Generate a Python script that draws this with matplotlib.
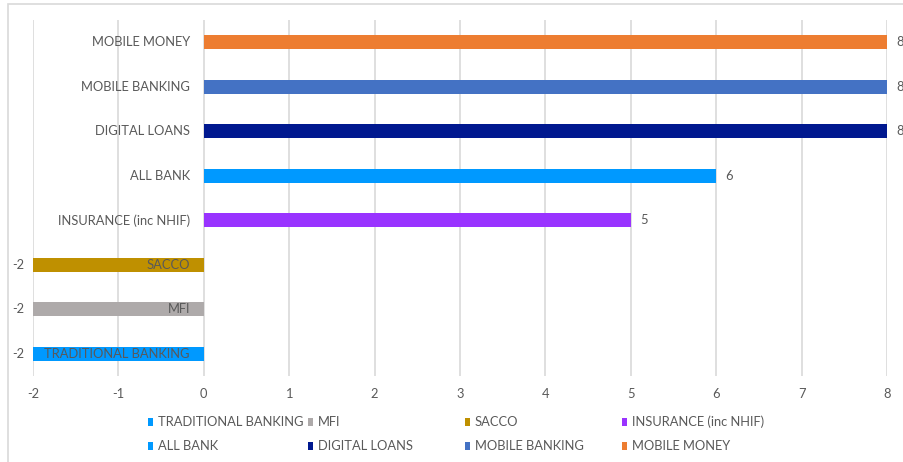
import matplotlib.pyplot as plt
from matplotlib.patches import Rectangle

categories = ["TRADITIONAL BANKING", "MFI", "SACCO", "INSURANCE (inc NHIF)",
              "ALL BANK", "DIGITAL LOANS", "MOBILE BANKING", "MOBILE MONEY"]
values = [-2, -2, -2, 5, 6, 8, 8, 8]
colors = ["#0099FF", "#AEAAAA", "#BF9000", "#9933FF",
          "#0099FF", "#00188F", "#4472C4", "#ED7D31"]
xticks = list(range(-2, 9))

plt.rcParams['font.family'] = ['Lato', 'DejaVu Sans']
plt.rcParams['axes.unicode_minus'] = False
txt = "#595959"
grid = "#D9D9D9"
fs = 9.3

fig = plt.figure(figsize=(9.04, 4.62), dpi=100)
ax = fig.add_axes([33 / 904, 86 / 462, 854 / 904, 356 / 462])

pos = list(range(len(categories)))
ax.barh(pos, values, height=0.32, color=colors, zorder=3)

for p, v, c in zip(pos, values, categories):
    if v >= 0:
        ax.annotate(str(v), (v, p), xytext=(6.5, 0), textcoords="offset points",
                    ha="left", va="center", fontsize=fs, color=txt)
    else:
        ax.annotate(str(v), (v, p), xytext=(-6, 0), textcoords="offset points",
                    ha="right", va="center", fontsize=fs, color=txt)
    ax.annotate(c, (0, p), xytext=(-10, 0), textcoords="offset points",
                ha="right", va="center", fontsize=fs, color=txt, zorder=5)

ax.set_xlim(-2, 8)
ax.set_ylim(-0.5, len(categories) - 0.5)
ax.set_xticks(xticks)
ax.set_yticks([])
ax.tick_params(axis="x", length=0, pad=9, labelsize=fs, labelcolor=txt)
ax.grid(axis="x", color=grid, linewidth=1.2, zorder=0)
for s in ax.spines.values():
    s.set_visible(False)

# legend laid out like Excel: equal-width columns, filled row by row
col_x = [148, 308, 465, 622]
row_y = [422, 446]
for i, (c, col) in enumerate(zip(categories, colors)):
    x = col_x[i % 4]
    y = row_y[i // 4]
    fig.add_artist(Rectangle((x / 904, 1 - (y + 4) / 462), 5 / 904, 8 / 462,
                             transform=fig.transFigure, color=col, lw=0))
    fig.text((x + 10) / 904, 1 - y / 462, c, ha="left", va="center",
             fontsize=fs, color=txt)

# chart area border
fig.add_artist(Rectangle((8 / 904, -0.1), 1.0, 1 - 4 / 462 + 0.1,
                         transform=fig.transFigure, fill=False,
                         edgecolor="#D9D9D9", linewidth=1.2))

fig.savefig("out.png", dpi=100)
